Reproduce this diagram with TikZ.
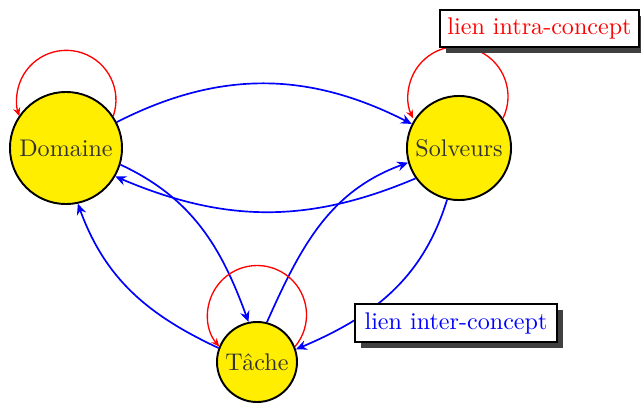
\documentclass[tikz,border=0pt]{standalone}
\usetikzlibrary{arrows.meta,shadows}
\definecolor{nodeyellow}{RGB}{255,238,0}
\begin{document}
\begin{tikzpicture}[x=0.415pt,y=0.415pt,
  concept/.style={circle,draw=black,thick,fill=nodeyellow,inner sep=0pt,text=black!80},
  inter/.style={draw=blue,line width=0.7pt,-{Stealth[length=4.5pt,width=4pt,inset=1.5pt]}},
  intra/.style={draw=red,line width=0.55pt,-{Stealth[length=3.5pt,width=3pt,inset=1.2pt]}},
  legend/.style={rectangle,draw=black,thick,fill=white,inner xsep=3pt,minimum height=15.4pt,
    drop shadow={shadow xshift=2.5pt,shadow yshift=-2.5pt,fill=black!75,opacity=1}}]
\useasboundingbox (0,0) rectangle (641,403);
\node[concept,minimum size=46.5pt] (D) at (66,255) {Domaine};
\node[concept,minimum size=43.2pt] (S) at (459,255) {Solveurs};
\node[concept,minimum size=33.2pt] (T) at (257,41) {Tâche};
% inter-concept links
\draw[inter] (D.27) to[out=27,in=153] (S.153);
\draw[inter] (S.215) to[out=203,in=337] (D.330);
\draw[inter] (D.343) to[out=-25,in=110] (T.102);
\draw[inter] (T.160) to[out=155,in=-70] (D.282);
\draw[inter] (T.76) to[out=66,in=200] (S.196);
\draw[inter] (S.257) to[out=253,in=23] (T.18);
% intra-concept loops
\draw[intra] (D.34) arc[start angle=-19,end angle=199,radius=20.6pt];
\draw[intra] (S.34) arc[start angle=-26,end angle=206,radius=20.75pt];
\draw[intra] (T.22) arc[start angle=-40,end angle=220,radius=20.5pt];
% legends
\node[legend,text=red,minimum width=81.5pt] (L1) at (539.5,374.5) {lien intra-concept};
\node[legend,text=blue,minimum width=83.5pt] (L2) at (456,80) {lien inter-concept};
\end{tikzpicture}
\end{document}
